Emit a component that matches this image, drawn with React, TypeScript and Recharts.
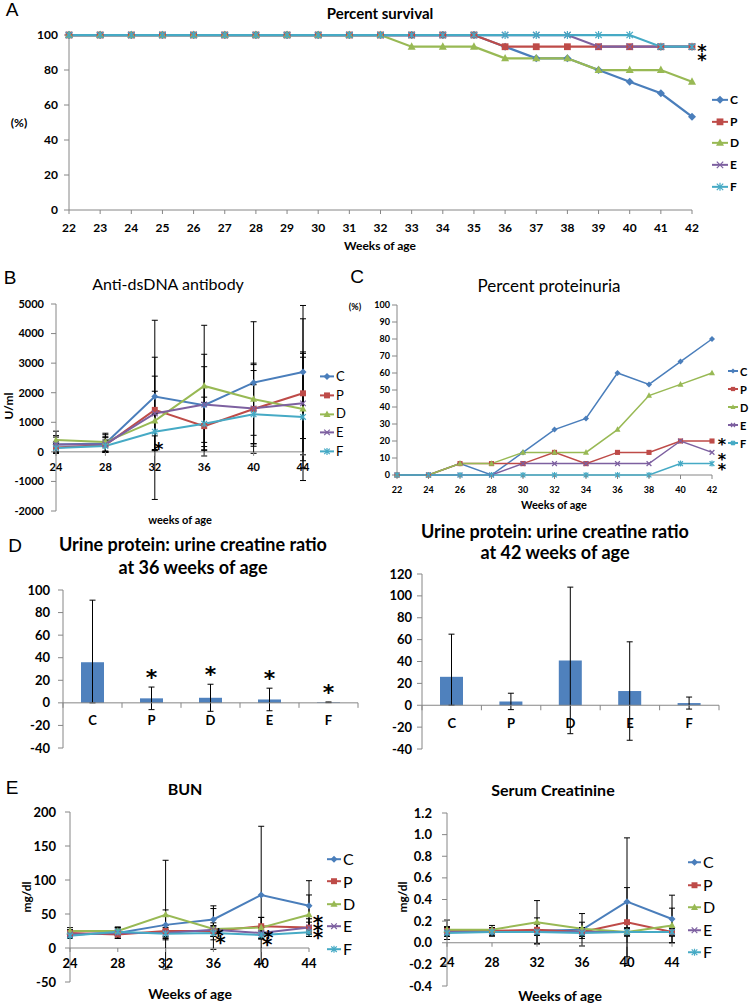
import { LineChart, Line, BarChart, Bar, XAxis, YAxis, ErrorBar, ReferenceLine, ReferenceDot, Legend } from 'recharts'

const FONT = 'Lato, "Open Sans", sans-serif'
const STAR_FONT = '"DejaVu Sans", sans-serif'
const LETTER_FONT = '"Liberation Sans", Arial, sans-serif'
const AXIS = '#868686'
const BAR = '#4F81BD'

const GROUPS = ['C', 'P', 'D', 'E', 'F']
const COLORS = ['#4A7EBB', '#BE4B48', '#98B954', '#7D60A0', '#46AAC5']
const SHAPES = ['diamond', 'square', 'triangle', 'cross', 'star']

// A: percent survival
const weeksA = [22, 23, 24, 25, 26, 27, 28, 29, 30, 31, 32, 33, 34, 35, 36, 37, 38, 39, 40, 41, 42]
const survivalC = [100, 100, 100, 100, 100, 100, 100, 100, 100, 100, 100, 100, 100, 100, 93.3, 86.7, 86.7, 80, 73.3, 66.7, 53.3]
const survivalP = [100, 100, 100, 100, 100, 100, 100, 100, 100, 100, 100, 100, 100, 100, 93.3, 93.3, 93.3, 93.3, 93.3, 93.3, 93.3]
const survivalD = [100, 100, 100, 100, 100, 100, 100, 100, 100, 100, 100, 93.3, 93.3, 93.3, 86.7, 86.7, 86.7, 80, 80, 80, 73.3]
const survivalE = [100, 100, 100, 100, 100, 100, 100, 100, 100, 100, 100, 100, 100, 100, 100, 100, 100, 93.3, 93.3, 93.3, 93.3]
const survivalF = [100, 100, 100, 100, 100, 100, 100, 100, 100, 100, 100, 100, 100, 100, 100, 100, 100, 100, 100, 93.3, 93.3]
const survivalTicks = [0, 20, 40, 60, 80, 100]

// B: anti-dsDNA antibody (U/ml)
const weeksB = [24, 28, 32, 36, 40, 44]
const dnaC = [250, 280, 1870, 1580, 2340, 2700]
const dnaP = [150, 230, 1420, 870, 1450, 1980]
const dnaD = [400, 330, 1050, 2230, 1780, 1450]
const dnaE = [250, 260, 1300, 1600, 1470, 1640]
const dnaF = [130, 200, 680, 950, 1270, 1180]
const dnaErrC = [300, 300, 1330, 1720, 2060, 2250]
const dnaErrP = [200, 250, 3030, 800, 1500, 2520]
const dnaErrD = [300, 300, 1000, 2050, 1220, 1750]
const dnaErrE = [250, 250, 1260, 1280, 1280, 1740]
const dnaErrF = [150, 200, 600, 900, 1000, 2150]
const dnaTicks = [-2000, -1000, 0, 1000, 2000, 3000, 4000, 5000]

// C: percent proteinuria
const weeksC = [22, 24, 26, 28, 30, 32, 34, 36, 38, 40, 42]
const protC = [0, 0, 6.7, 0, 13.3, 26.7, 33.3, 60, 53.3, 66.7, 80]
const protP = [0, 0, 6.7, 6.7, 6.7, 13.3, 6.7, 13.3, 13.3, 20, 20]
const protD = [0, 0, 6.7, 6.7, 13.3, 13.3, 13.3, 26.7, 46.7, 53.3, 60]
const protE = [0, 0, 0, 0, 6.7, 6.7, 6.7, 6.7, 6.7, 20, 13.3]
const protF = [0, 0, 0, 0, 0, 0, 0, 0, 0, 6.7, 6.7]
const protTicks = [0, 10, 20, 30, 40, 50, 60, 70, 80, 90, 100]

// D: urine protein / creatinine ratio
const ratio36 = [36, 4, 4.5, 3, 0.5]
const ratio36Err: (number | number[])[] = [[36, 55], 10, 12, 10, 0.3]
const ratio36Stars = ['P', 'D', 'E', 'F']
const ratio36Ticks = [-40, -20, 0, 20, 40, 60, 80, 100]
const ratio42 = [26, 3.5, 41, 13, 2]
const ratio42Err: (number | number[])[] = [[26, 39], 7.5, 67, 45, 5.5]
const ratio42Ticks = [-40, -20, 0, 20, 40, 60, 80, 100, 120]

// E: BUN and serum creatinine (mg/dl)
const weeksE = [24, 28, 32, 36, 40, 44]
const bunC = [20, 22, 34, 42, 78, 62]
const bunP = [22, 20, 25, 25, 32, 30]
const bunD = [25, 25, 49, 28, 30, 49]
const bunE = [20, 22, 22, 27, 22, 30]
const bunF = [18, 24, 21, 22, 19, 23]
const bunErrC = [6, 8, 22, 20, 101, 37]
const bunErrP = [5, 6, 8, 8, 13, 13]
const bunErrD = [5, 6, 80, 30, 15, 29]
const bunErrE = [5, 6, 8, 10, 8, 8]
const bunErrF = [4, 6, 6, 10, 6, 6]
const bunTicks = [-50, 0, 50, 100, 150, 200]

const creC = [0.1, 0.1, 0.11, 0.12, 0.38, 0.22]
const creP = [0.11, 0.11, 0.12, 0.1, 0.19, 0.1]
const creD = [0.12, 0.12, 0.19, 0.13, 0.1, 0.16]
const creE = [0.1, 0.1, 0.1, 0.1, 0.1, 0.1]
const creF = [0.09, 0.1, 0.1, 0.09, 0.1, 0.1]
const creErrC = [0.04, 0.04, 0.12, 0.15, 0.59, 0.22]
const creErrP = [0.04, 0.03, 0.05, 0.04, 0.32, 0.04]
const creErrD = [0.09, 0.04, 0.2, 0.06, 0.04, 0.16]
const creErrE = [0.04, 0.03, 0.03, 0.04, 0.03, 0.03]
const creErrF = [0.03, 0.03, 0.03, 0.05, 0.03, 0.03]
const creTicks = [-0.4, -0.2, 0, 0.2, 0.4, 0.6, 0.8, 1.0, 1.2]

function buildRows(weeks: number[], values: number[][], errors?: number[][]) {
  return weeks.map((week, i) => {
    const row: Record<string, number> = { week }
    GROUPS.forEach((g, j) => {
      row[g] = values[j][i]
      if (errors) row[`${g}Err`] = errors[j][i]
    })
    return row
  })
}

const survivalRows = buildRows(weeksA, [survivalC, survivalP, survivalD, survivalE, survivalF])
const dnaRows = buildRows(weeksB, [dnaC, dnaP, dnaD, dnaE, dnaF], [dnaErrC, dnaErrP, dnaErrD, dnaErrE, dnaErrF])
const protRows = buildRows(weeksC, [protC, protP, protD, protE, protF])
const bunRows = buildRows(weeksE, [bunC, bunP, bunD, bunE, bunF], [bunErrC, bunErrP, bunErrD, bunErrE, bunErrF])
const creRows = buildRows(weeksE, [creC, creP, creD, creE, creF], [creErrC, creErrP, creErrD, creErrE, creErrF])
const ratio36Rows = GROUPS.map((group, i) => ({ group, value: ratio36[i], err: ratio36Err[i] }))
const ratio42Rows = GROUPS.map((group, i) => ({ group, value: ratio42[i], err: ratio42Err[i] }))

// layout: every chart covers the whole page, plot areas in page pixels
const PAGE_W = 750
const PAGE_H = 1004
const YW = 50
const XH = 2

type Plot = { x: number; y: number; w: number; h: number }
const PLOT_A: Plot = { x: 69, y: 35, w: 623, h: 175 }
const PLOT_B: Plot = { x: 56, y: 304, w: 247, h: 207 }
const PLOT_C: Plot = { x: 397, y: 305, w: 315, h: 170 }
const PLOT_D1: Plot = { x: 63, y: 590, w: 295, h: 158 }
const PLOT_D2: Plot = { x: 422, y: 574, w: 297, h: 175 }
const PLOT_E1: Plot = { x: 70, y: 812, w: 239, h: 170 }
const PLOT_E2: Plot = { x: 447, y: 813, w: 225, h: 173 }

function frame(p: Plot) {
  return {
    width: PAGE_W,
    height: PAGE_H,
    margin: { left: p.x - YW, top: p.y, right: PAGE_W - p.x - p.w, bottom: PAGE_H - p.y - p.h - XH },
  }
}

function zeroShift(p: Plot, ticks: number[]) {
  const min = ticks[0]
  const max = ticks[ticks.length - 1]
  return (p.h * (0 - min)) / (max - min)
}

function marker(shape: string, x: number, y: number, s: number, color: string) {
  switch (shape) {
    case 'diamond':
      return <polygon points={`${x},${y - s} ${x + s},${y} ${x},${y + s} ${x - s},${y}`} fill={color} />
    case 'square':
      return <rect x={x - s * 0.85} y={y - s * 0.85} width={s * 1.7} height={s * 1.7} fill={color} />
    case 'triangle':
      return <polygon points={`${x},${y - s * 1.1} ${x + s},${y + s * 0.75} ${x - s},${y + s * 0.75}`} fill={color} />
    case 'cross':
      return (
        <path d={`M${x - s * 0.8},${y - s * 0.8}L${x + s * 0.8},${y + s * 0.8}M${x - s * 0.8},${y + s * 0.8}L${x + s * 0.8},${y - s * 0.8}`} stroke={color} strokeWidth={1.2} fill="none" />
      )
    default:
      return (
        <path
          d={`M${x - s * 0.8},${y - s * 0.8}L${x + s * 0.8},${y + s * 0.8}M${x - s * 0.8},${y + s * 0.8}L${x + s * 0.8},${y - s * 0.8}M${x},${y - s}L${x},${y + s}`}
          stroke={color}
          strokeWidth={1.2}
          fill="none"
        />
      )
  }
}

function seriesLines(width: number, size: number, cap = 0) {
  return GROUPS.map((g, j) => (
    <Line
      key={g}
      type="linear"
      dataKey={g}
      stroke={COLORS[j]}
      strokeWidth={width}
      isAnimationActive={false}
      activeDot={false}
      dot={(p: any) => <g key={`${g}-${p.index}`}>{marker(SHAPES[j], p.cx, p.cy, size, COLORS[j])}</g>}
    >
      {cap > 0 && <ErrorBar dataKey={`${g}Err`} width={cap} stroke="#000" strokeWidth={1} />}
    </Line>
  ))
}

function xTick(shift: number, labelDy: number, fontSize: number, band = 0) {
  return (props: any) => {
    const { x, y, payload, index } = props
    const y0 = y - shift
    return (
      <g>
        {band > 0 ? (
          <>
            <line x1={x - band / 2} x2={x - band / 2} y1={y0} y2={y0 + 5} stroke={AXIS} />
            {index === GROUPS.length - 1 && <line x1={x + band / 2} x2={x + band / 2} y1={y0} y2={y0 + 5} stroke={AXIS} />}
          </>
        ) : (
          <line x1={x} x2={x} y1={y0} y2={y0 + 4} stroke={AXIS} />
        )}
        <text x={x} y={y0 + labelDy} textAnchor="middle" dominantBaseline="central" fontSize={fontSize} fontWeight="bold" fontFamily={FONT} fill="#000">
          {payload.value}
        </text>
      </g>
    )
  }
}

function yAxisProps(ticks: number[], fontSize: number, gap: number, format?: (v: number) => string) {
  return {
    type: 'number' as const,
    domain: [ticks[0], ticks[ticks.length - 1]],
    ticks,
    interval: 0 as const,
    width: YW,
    axisLine: { stroke: AXIS },
    tickLine: { stroke: AXIS },
    tickSize: 5,
    tickMargin: gap,
    tickFormatter: format,
    tick: { fontSize, fontWeight: 'bold', fill: '#000', fontFamily: FONT },
  }
}

function legendBox(rowH: number, fontSize: number, lineLen: number, size: number, bold: boolean) {
  return () => (
    <div style={{ fontFamily: FONT, fontSize, fontWeight: bold ? 'bold' : 'normal', color: '#000' }}>
      {GROUPS.map((g, j) => (
        <div key={g} style={{ display: 'flex', alignItems: 'center', height: rowH }}>
          <svg width={lineLen} height={rowH} style={{ display: 'block' }}>
            <line x1={0} x2={lineLen} y1={rowH / 2} y2={rowH / 2} stroke={COLORS[j]} strokeWidth={2} />
            {marker(SHAPES[j], lineLen / 2, rowH / 2, size, COLORS[j])}
          </svg>
          <span style={{ marginLeft: 2, lineHeight: 1 }}>{g}</span>
        </div>
      ))}
    </div>
  )
}

// significance asterisks, placed relative to a data point
function stars(offsets: number[][], size = 20) {
  return (p: any) => (
    <g>
      {offsets.map(([dx, dy], i) => (
        <text key={i} x={p.cx + dx} y={p.cy + dy} dy="0.42em" textAnchor="middle" dominantBaseline="central" fontSize={size} fontFamily={STAR_FONT} fontWeight="bold" fill="#000">
          *
        </text>
      ))}
    </g>
  )
}

function Caption({ x, y, size, bold = false, rotate = 0, font = FONT, children }: { x: number; y: number; size: number; bold?: boolean; rotate?: number; font?: string; children: React.ReactNode }) {
  return (
    <div
      style={{
        position: 'absolute',
        left: x,
        top: y,
        transform: `translate(-50%, -50%) rotate(${rotate}deg)`,
        fontFamily: font,
        fontSize: size,
        fontWeight: bold ? 'bold' : 'normal',
        whiteSpace: 'nowrap',
        lineHeight: 1,
        color: '#000',
      }}
    >
      {children}
    </div>
  )
}

const layer = { position: 'absolute' as const, left: 0, top: 0 }

export default function App() {
  return (
    <div style={{ position: 'absolute', left: 0, top: 0, width: PAGE_W, height: PAGE_H, background: '#fff', overflow: 'hidden' }}>
      {/* A */}
      <div style={layer}>
        <LineChart data={survivalRows} {...frame(PLOT_A)}>
          <XAxis dataKey="week" type="category" interval={0} axisLine={false} tickLine={false} tickSize={0} tickMargin={0} height={XH} tick={xTick(0, 17.5, 12)} />
          <YAxis {...yAxisProps(survivalTicks, 12, 6)} />
          <ReferenceLine y={0} stroke={AXIS} />
          {seriesLines(2.25, 4)}
          <ReferenceDot x={42} y={93.3} r={0} shape={stars([[10, -4], [10, 5]], 18)} />
          <Legend layout="vertical" align="center" verticalAlign="middle" wrapperStyle={{ left: 712, top: 89, width: 36 }} content={legendBox(21.7, 12, 16, 4, true)} />
        </LineChart>
      </div>

      {/* B */}
      <div style={layer}>
        <LineChart data={dnaRows} {...frame(PLOT_B)}>
          <XAxis dataKey="week" type="category" interval={0} axisLine={false} tickLine={false} tickSize={0} tickMargin={0} height={XH} tick={xTick(zeroShift(PLOT_B, dnaTicks), 14.5, 11)} />
          <YAxis {...yAxisProps(dnaTicks, 11, 7)} />
          <ReferenceLine y={0} stroke={AXIS} />
          {seriesLines(2, 3.5, 3)}
          <ReferenceDot x={32} y={680} r={0} shape={stars([[4, 9]], 18)} />
          <Legend layout="vertical" align="center" verticalAlign="middle" wrapperStyle={{ left: 320, top: 367, width: 36 }} content={legendBox(18.8, 13, 14, 3.5, false)} />
        </LineChart>
      </div>

      {/* C */}
      <div style={layer}>
        <LineChart data={protRows} {...frame(PLOT_C)}>
          <XAxis dataKey="week" type="category" interval={0} axisLine={false} tickLine={false} tickSize={0} tickMargin={0} height={XH} tick={xTick(0, 14, 9)} />
          <YAxis {...yAxisProps(protTicks, 9, 2)} />
          <ReferenceLine y={0} stroke={AXIS} />
          {seriesLines(1.5, 3)}
          <ReferenceDot x={42} y={20} r={0} shape={stars([[10, -3]], 16)} />
          <ReferenceDot x={42} y={13.3} r={0} shape={stars([[10, 0]], 16)} />
          <ReferenceDot x={42} y={6.7} r={0} shape={stars([[10, -1]], 16)} />
          <Legend layout="vertical" align="center" verticalAlign="middle" wrapperStyle={{ left: 728, top: 362, width: 22 }} content={legendBox(18, 11, 10, 2.5, true)} />
        </LineChart>
      </div>

      {/* D left */}
      <div style={layer}>
        <BarChart data={ratio36Rows} {...frame(PLOT_D1)}>
          <XAxis dataKey="group" type="category" interval={0} axisLine={false} tickLine={false} tickSize={0} tickMargin={0} height={XH} tick={xTick(zeroShift(PLOT_D1, ratio36Ticks), 17, 13, PLOT_D1.w / 5)} />
          <YAxis {...yAxisProps(ratio36Ticks, 13, 8)} />
          <Bar dataKey="value" fill={BAR} barSize={23} isAnimationActive={false}>
            <ErrorBar dataKey="err" width={3} stroke="#000" strokeWidth={1} />
          </Bar>
          <ReferenceLine y={0} stroke={AXIS} />
          {ratio36Stars.map((g) => {
            const i = GROUPS.indexOf(g)
            const e = ratio36Err[i] as number
            return <ReferenceDot key={g} x={g} y={ratio36[i] + e} r={0} shape={stars([[0, -19]], 22)} />
          })}
        </BarChart>
      </div>

      {/* D right */}
      <div style={layer}>
        <BarChart data={ratio42Rows} {...frame(PLOT_D2)}>
          <XAxis dataKey="group" type="category" interval={0} axisLine={false} tickLine={false} tickSize={0} tickMargin={0} height={XH} tick={xTick(zeroShift(PLOT_D2, ratio42Ticks), 18, 13, PLOT_D2.w / 5)} />
          <YAxis {...yAxisProps(ratio42Ticks, 13, 5)} />
          <Bar dataKey="value" fill={BAR} barSize={23} isAnimationActive={false}>
            <ErrorBar dataKey="err" width={3} stroke="#000" strokeWidth={1} />
          </Bar>
          <ReferenceLine y={0} stroke={AXIS} />
        </BarChart>
      </div>

      {/* E left */}
      <div style={layer}>
        <LineChart data={bunRows} {...frame(PLOT_E1)}>
          <XAxis dataKey="week" type="category" interval={0} axisLine={false} tickLine={false} tickSize={0} tickMargin={0} height={XH} tick={xTick(zeroShift(PLOT_E1, bunTicks), 15, 13)} />
          <YAxis {...yAxisProps(bunTicks, 13, 9)} />
          <ReferenceLine y={0} stroke={AXIS} />
          {seriesLines(2, 3.5, 3)}
          <ReferenceDot x={36} y={25} r={0} shape={stars([[5, -4], [7, 3]], 20)} />
          <ReferenceDot x={40} y={22} r={0} shape={stars([[7, -4], [6, 3]], 20)} />
          <ReferenceDot x={44} y={30} r={0} shape={stars([[9, -14], [9, -6], [9, 1]], 20)} />
          <Legend layout="vertical" align="center" verticalAlign="middle" wrapperStyle={{ left: 327, top: 848, width: 40 }} content={legendBox(22.4, 16, 14, 3.5, false)} />
        </LineChart>
      </div>

      {/* E right */}
      <div style={layer}>
        <LineChart data={creRows} {...frame(PLOT_E2)}>
          <XAxis dataKey="week" type="category" interval={0} axisLine={false} tickLine={false} tickSize={0} tickMargin={0} height={XH} tick={xTick(zeroShift(PLOT_E2, creTicks), 19, 13)} />
          <YAxis {...yAxisProps(creTicks, 13, 10, (v: number) => v.toFixed(1))} />
          <ReferenceLine y={0} stroke={AXIS} />
          {seriesLines(2, 3.5, 3)}
          <Legend layout="vertical" align="center" verticalAlign="middle" wrapperStyle={{ left: 688, top: 851, width: 40 }} content={legendBox(22.5, 16, 13, 3.5, false)} />
        </LineChart>
      </div>

      {/* titles and axis names */}
      <Caption x={12} y={9} size={19} font={LETTER_FONT}>A</Caption>
      <Caption x={380} y={13} size={15} bold>Percent survival</Caption>
      <Caption x={19} y={123} size={12} bold>(%)</Caption>
      <Caption x={380} y={246} size={12} bold>Weeks of age</Caption>

      <Caption x={10} y={277} size={19} font={LETTER_FONT}>B</Caption>
      <Caption x={168} y={284} size={16}>Anti-dsDNA antibody</Caption>
      <Caption x={9} y={406} size={12} bold rotate={-90}>U/ml</Caption>
      <Caption x={180} y={519} size={11} bold>weeks of age</Caption>

      <Caption x={357} y={276} size={19} font={LETTER_FONT}>C</Caption>
      <Caption x={549} y={285} size={17}>Percent proteinuria</Caption>
      <Caption x={355} y={306} size={9} bold>(%)</Caption>
      <Caption x={554} y={504} size={11} bold>Weeks of age</Caption>

      <Caption x={15} y={545} size={19} font={LETTER_FONT}>D</Caption>
      <Caption x={193} y={544} size={18} bold>Urine protein: urine creatine ratio</Caption>
      <Caption x={193} y={567} size={18} bold>at 36 weeks of age</Caption>
      <Caption x={555} y={531} size={18} bold>Urine protein: urine creatine ratio</Caption>
      <Caption x={555} y={552} size={18} bold>at 42 weeks of age</Caption>

      <Caption x={12} y={787} size={19} font={LETTER_FONT}>E</Caption>
      <Caption x={185} y={789} size={16} bold>BUN</Caption>
      <Caption x={27} y={897} size={12} bold rotate={-90}>mg/dl</Caption>
      <Caption x={190} y={994} size={14} bold>Weeks of age</Caption>
      <Caption x={553} y={790} size={16} bold>Serum Creatinine</Caption>
      <Caption x={403} y={897} size={12} bold rotate={-90}>mg/dl</Caption>
      <Caption x={560} y={996} size={14} bold>Weeks of age</Caption>
    </div>
  )
}
